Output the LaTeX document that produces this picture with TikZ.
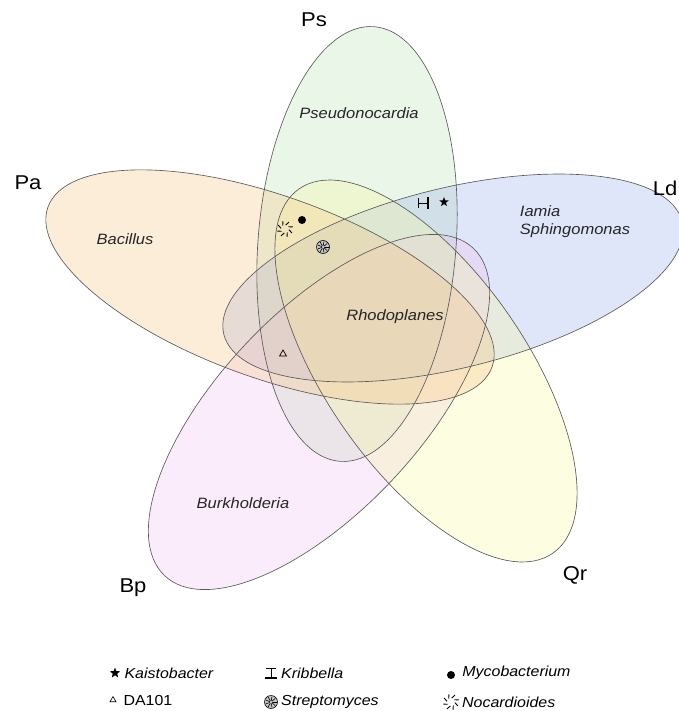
\documentclass[tikz,border=0pt]{standalone}
\usepackage{fontspec}
\setmainfont{Liberation Sans}[FakeStretch=1.1]
\usetikzlibrary{shapes.geometric}
\usetikzlibrary{positioning}
\definecolor{psfill}{RGB}{185,225,178}
\definecolor{pafill}{RGB}{246,196,128}
\definecolor{ldfill}{RGB}{152,172,238}
\definecolor{bpfill}{RGB}{238,192,238}
\definecolor{qrfill}{RGB}{248,248,158}
\definecolor{setline}{RGB}{90,90,90}

% small symbols of the legend
\newcommand{\kribbella}[2]{%
  \begin{scope}[shift={#1}, rotate=#2]
    \draw[line width=0.8pt] (-5,-5) -- (5,-5) (0,-5) -- (0,5);
    \draw[line width=1.6pt] (-6,5) -- (6,5);
  \end{scope}}
\newcommand{\strepto}[1]{%
  \begin{scope}[shift={#1}]
    \draw[fill=gray!45, line width=0.6pt] (0,0) circle (6.5);
    \foreach \a in {0,40,...,320}
      \draw[line width=0.6pt] (0,0) -- (\a:5.5);
    \fill[gray!45] (0,0) circle (1.5);
  \end{scope}}
\newcommand{\nocardio}[1]{%
  \begin{scope}[shift={#1}]
    \foreach \a in {0,45,...,315}
      \draw[line width=0.9pt] (\a+10:4) -- (\a+30:8);
  \end{scope}}

\begin{document}
\begin{tikzpicture}[x=1pt, y=-1pt,
    setedge/.style={draw=setline, line width=0.65pt},
    setfill/.style={fill=#1, fill opacity=.3},
    setname/.style={font=\fontsize{20}{24}\selectfont},
    genus/.style={font=\fontsize{15}{18}\selectfont\itshape, text=black!85},
    legendtext/.style={font=\fontsize{14.5}{17}\selectfont\itshape, inner sep=0pt}]
  \useasboundingbox (0,0) rectangle (678,711);
  % Fill the five sets
  \fill[setfill=psfill, rotate around={85.5:(357,244)}] (357,244) ellipse [x radius=218, y radius=99];
  \fill[setfill=ldfill, rotate around={13.8:(453,278)}] (453,278) ellipse [x radius=236, y radius=90];
  \fill[setfill=bpfill, rotate around={46.7:(319,412)}] (319,412) ellipse [x radius=225, y radius=100];
  \fill[setfill=qrfill, rotate around={124.85:(426,371)}] (426,371) ellipse [x radius=222, y radius=100];
  \fill[setfill=pafill, rotate around={160.2:(270,287)}] (270,287) ellipse [x radius=236, y radius=91];
  % Outlines
  \draw[setedge, rotate around={85.5:(357,244)}] (357,244) ellipse [x radius=218, y radius=99];
  \draw[setedge, rotate around={160.2:(270,287)}] (270,287) ellipse [x radius=236, y radius=91];
  \draw[setedge, rotate around={13.8:(453,278)}] (453,278) ellipse [x radius=236, y radius=90];
  \draw[setedge, rotate around={46.7:(319,412)}] (319,412) ellipse [x radius=225, y radius=100];
  \draw[setedge, rotate around={124.85:(426,371)}] (426,371) ellipse [x radius=222, y radius=100];
  % Set names
  \node[setname] (ps) at (314,20) {Ps};
  \node[setname] (pa) at (28,183) {Pa};
  \node[setname] (ld) at (665,188) {Ld};
  \node[setname] (bp) at (133,588) {Bp};
  \node[setname] (qr) at (575,575) {Qr};
  % Genera in the regions
  \node[genus] (pseudo) at (359,113) {Pseudonocardia};
  \node[genus] (bacil) at (125,239) {Bacillus};
  \node[genus, align=left] (iamia) at (575,222) {Iamia\\Sphingomonas};
  \node[genus] (rhodo) at (395,317) {Rhodoplanes};
  \node[genus] (burk) at (243,503) {Burkholderia};
  % Symbols in the regions
  \kribbella{(423,203)}{90}
  \node[star, star points=5, star point ratio=2.4, fill, inner sep=0pt, minimum size=10pt] (kaipt) at (444,202) {};
  \node[circle, fill, inner sep=0pt, minimum size=8pt] (mycopt) at (302,220) {};
  \nocardio{(285,229)}
  \strepto{(323,247)}
  \node[regular polygon, regular polygon sides=3, draw, line width=0.7pt, inner sep=0pt, minimum size=8pt] (dapt) at (283,354) {};
  % Legend
  \node[star, star points=5, star point ratio=2.4, fill, inner sep=0pt, minimum size=11pt] (kaisym) at (115,673) {};
  \node[legendtext, right=6pt of kaisym] (kaitext) {Kaistobacter};
  \coordinate (kribsym) at (271,673);
  \kribbella{(kribsym)}{0}
  \node[legendtext, right=10pt of kribsym] (kribtext) {Kribbella};
  \node[circle, fill, inner sep=0pt, minimum size=8pt] (mycosym) at (451,675) {};
  \node[legendtext, right=7pt of mycosym, yshift=2pt] (mycotext) {Mycobacterium};
  \node[regular polygon, regular polygon sides=3, draw, line width=0.6pt, inner sep=0pt, minimum size=7pt] (dasym) at (113,700) {};
  \node[inner sep=0pt, font=\fontsize{14.5}{17}\selectfont, right=8pt of dasym] (datext) {DA101};
  \coordinate (strepsym) at (271,702);
  \strepto{(strepsym)}
  \node[legendtext, right=10pt of strepsym] (streptext) {Streptomyces};
  \coordinate (nocsym) at (451,702);
  \nocardio{(nocsym)}
  \node[legendtext, right=11pt of nocsym] (noctext) {Nocardioides};
\end{tikzpicture}
\end{document}
